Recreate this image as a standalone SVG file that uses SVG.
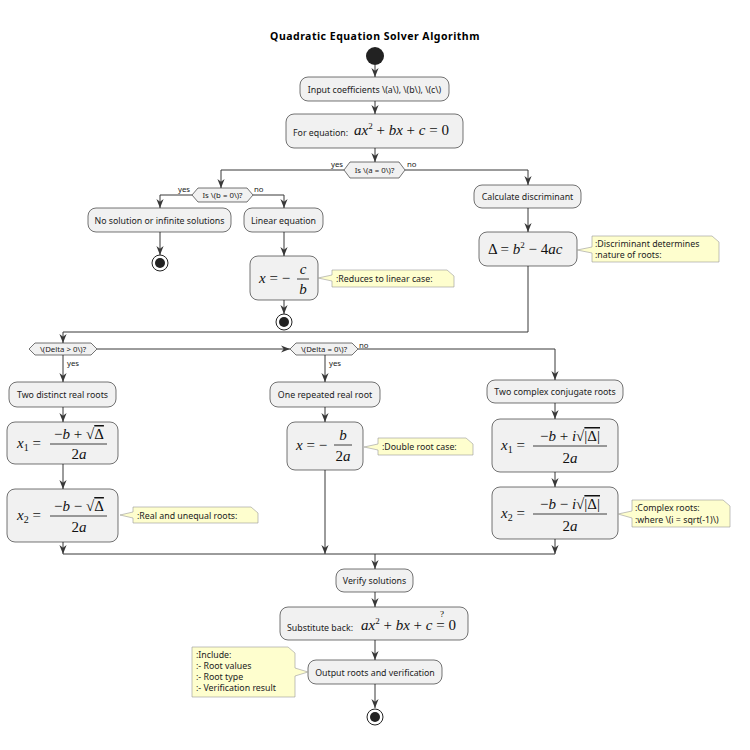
<svg xmlns="http://www.w3.org/2000/svg" width="750" height="750" viewBox="0 0 750 750">
<style>
.box{fill:#f1f1f1;stroke:#181818;stroke-width:0.6}
.t{font-family:"Noto Sans","DejaVu Sans",sans-serif;font-size:8.8px;fill:#222}
.s{font-family:"Noto Sans","DejaVu Sans",sans-serif;font-size:7.8px;fill:#222}
.m{font-family:"Liberation Serif",serif;font-size:15px;font-style:italic;fill:#111}
.mn{font-family:"Liberation Serif",serif;font-style:normal;fill:#111}
.sup{font-family:"Liberation Serif",serif;font-style:normal;font-size:9px}
.sub{font-family:"Liberation Serif",serif;font-style:normal;font-size:10px}
.note{fill:#fefece;stroke:#999;stroke-width:0.6}
.ln{stroke:#383838;stroke-width:1;fill:none}
.fr{stroke:#111;stroke-width:0.8}
</style>
<defs>
<marker id="a" viewBox="0 0 10 10" refX="10" refY="5" markerWidth="9" markerHeight="9" orient="auto"><path d="M0,1 L10,5 L0,9 L3,5 Z" fill="#383838"/></marker>
</defs>
<rect width="750" height="750" fill="#fff"/>
<text x="375" y="40" text-anchor="middle" font-family="Noto Sans,DejaVu Sans,sans-serif" font-size="10.5" font-weight="bold" letter-spacing="0.5">Quadratic Equation Solver Algorithm</text>

<g id="connectors">
<path class="ln" d="M375,65 V77" marker-end="url(#a)"/>
<path class="ln" d="M375,101 V114" marker-end="url(#a)"/>
<path class="ln" d="M375,148 V162" marker-end="url(#a)"/>
<path class="ln" d="M344,170 H221 V188" marker-end="url(#a)"/>
<path class="ln" d="M405,170 H528 V185" marker-end="url(#a)"/>
<path class="ln" d="M192,195 H160 V208" marker-end="url(#a)"/>
<path class="ln" d="M253,195 H284 V208" marker-end="url(#a)"/>
<path class="ln" d="M160,232 V255" marker-end="url(#a)"/>
<path class="ln" d="M284,232 V256" marker-end="url(#a)"/>
<path class="ln" d="M284,300 V314" marker-end="url(#a)"/>
<path class="ln" d="M528,208 V232" marker-end="url(#a)"/>
<path class="ln" d="M528,266 V332 H63 V343" marker-end="url(#a)"/>
<path class="ln" d="M97,349 H290" marker-end="url(#a)"/>
<path class="ln" d="M63,355 V382" marker-end="url(#a)"/>
<path class="ln" d="M63,407 V422" marker-end="url(#a)"/>
<path class="ln" d="M63,464 V489" marker-end="url(#a)"/>
<path class="ln" d="M325,355 V382" marker-end="url(#a)"/>
<path class="ln" d="M325,407 V422" marker-end="url(#a)"/>
<path class="ln" d="M358,349 H555 V380" marker-end="url(#a)"/>
<path class="ln" d="M555,403 V419" marker-end="url(#a)"/>
<path class="ln" d="M555,472 V487" marker-end="url(#a)"/>
<path class="ln" d="M63,542 V554" marker-end="url(#a)"/>
<path class="ln" d="M325,470 V554" marker-end="url(#a)"/>
<path class="ln" d="M555,539 V554" marker-end="url(#a)"/>
<path class="ln" d="M63,554 H555"/>
<path class="ln" d="M375,554 V569" marker-end="url(#a)"/>
<path class="ln" d="M375,592 V607" marker-end="url(#a)"/>
<path class="ln" d="M375,640 V660" marker-end="url(#a)"/>
<path class="ln" d="M375,684 V708" marker-end="url(#a)"/>
<text class="s" x="331" y="167">yes</text><text class="s" x="407" y="167">no</text>
<text class="s" x="178" y="192">yes</text><text class="s" x="254" y="192">no</text>
<text class="s" x="67" y="366">yes</text><text class="s" x="329" y="366">yes</text><text class="s" x="359" y="348">no</text>
</g>

<g id="start"><circle cx="375" cy="56" r="9" fill="#222"/></g>
<g id="input"><rect class="box" x="300" y="77" width="149" height="24" rx="8"/><text class="t" x="374.5" y="92.5" text-anchor="middle">Input coefficients \(a\), \(b\), \(c\)</text></g>
<g id="equation"><rect class="box" x="286" y="114" width="177" height="34" rx="8"/><text class="t" x="293" y="136">For equation:</text><text class="m" x="354" y="135">ax<tspan class="sup" dy="-6">2</tspan><tspan class="mn" dy="6"> + </tspan>bx<tspan class="mn"> + </tspan>c<tspan class="mn"> = 0</tspan></text></g>
<g id="dA"><polygon class="box" points="344,170 350,162 399,162 405,170 399,178 350,178"/><text class="s" x="374.5" y="173" text-anchor="middle">Is \(a = 0\)?</text></g>
<g id="dB"><polygon class="box" points="192,195 198,188 247,188 253,195 247,202 198,202"/><text class="s" x="222.5" y="198" text-anchor="middle">Is \(b = 0\)?</text></g>
<g id="nosol"><rect class="box" x="88" y="208" width="143" height="24" rx="8"/><text class="t" x="159.5" y="223.5" text-anchor="middle">No solution or infinite solutions</text></g>
<g id="end1"><circle cx="160" cy="263" r="8" fill="#fff" stroke="#222"/><circle cx="160" cy="263" r="5" fill="#222"/></g>
<g id="linear"><rect class="box" x="244" y="208" width="79" height="24" rx="8"/><text class="t" x="283.5" y="223.5" text-anchor="middle">Linear equation</text></g>
<g id="xlin"><rect class="box" x="250" y="256" width="68" height="44" rx="8"/><text class="m" x="259" y="283">x<tspan class="mn"> = −</tspan></text><text class="m" x="303" y="274" text-anchor="middle">c</text><line class="fr" x1="297" y1="279" x2="309" y2="279"/><text class="m" x="303" y="294" text-anchor="middle">b</text></g>
<g id="noteLin"><path class="note" d="M332,270 H447 L454,276 V287 H332 V281 L318,278 L332,275 Z"/><text class="t" x="336" y="282">:Reduces to linear case:</text></g>
<g id="end2"><circle cx="284" cy="322" r="8" fill="#fff" stroke="#222"/><circle cx="284" cy="322" r="5" fill="#222"/></g>
<g id="calc"><rect class="box" x="474" y="185" width="107" height="23" rx="8"/><text class="t" x="527.5" y="200" text-anchor="middle">Calculate discriminant</text></g>
<g id="delta"><rect class="box" x="479" y="232" width="98" height="34" rx="8"/><text class="m" x="488" y="254"><tspan class="mn">Δ = </tspan>b<tspan class="sup" dy="-6">2</tspan><tspan class="mn" dy="6"> − 4</tspan>ac</text></g>
<g id="noteDelta"><path class="note" d="M592,236 H712 L719,242 V262 H592 V253 L577,250 L592,247 Z"/><text class="t" x="595" y="247">:Discriminant determines</text><text class="t" x="595" y="258">:nature of roots:</text></g>
<g id="dPos"><polygon class="box" points="29,349 35,343 91,343 97,349 91,355 35,355"/><text class="s" x="63" y="352" text-anchor="middle">\(Delta &gt; 0\)?</text></g>
<g id="dZero"><polygon class="box" points="290,349 296,343 352,343 358,349 352,355 296,355"/><text class="s" x="324" y="352" text-anchor="middle">\(Delta = 0\)?</text></g>
<g id="twoReal"><rect class="box" x="9" y="382" width="107" height="25" rx="8"/><text class="t" x="62.5" y="398" text-anchor="middle">Two distinct real roots</text></g>
<g id="x1real"><rect class="box" x="7" y="422" width="111" height="42" rx="8"/><text class="m" x="17" y="448">x<tspan class="sub" dy="3">1</tspan><tspan class="mn" dy="-3"> =</tspan></text><text class="m" x="79" y="439" text-anchor="middle"><tspan class="mn">−</tspan>b<tspan class="mn"> + √</tspan><tspan class="mn" text-decoration="overline">Δ</tspan></text><line class="fr" x1="50" y1="444" x2="107" y2="444"/><text class="m" x="79" y="459" text-anchor="middle"><tspan class="mn">2</tspan>a</text></g>
<g id="x2real"><rect class="box" x="7" y="489" width="111" height="53" rx="8"/><text class="m" x="17" y="520">x<tspan class="sub" dy="3">2</tspan><tspan class="mn" dy="-3"> =</tspan></text><text class="m" x="79" y="511" text-anchor="middle"><tspan class="mn">−</tspan>b<tspan class="mn"> − √</tspan><tspan class="mn" text-decoration="overline">Δ</tspan></text><line class="fr" x1="50" y1="516" x2="107" y2="516"/><text class="m" x="79" y="532" text-anchor="middle"><tspan class="mn">2</tspan>a</text></g>
<g id="noteReal"><path class="note" d="M133,507 H251 L258,513 V523 H133 V518 L120,515 L133,512 Z"/><text class="t" x="137" y="519">:Real and unequal roots:</text></g>
<g id="oneRoot"><rect class="box" x="270" y="382" width="110" height="25" rx="8"/><text class="t" x="325" y="398" text-anchor="middle">One repeated real root</text></g>
<g id="xdouble"><rect class="box" x="287" y="422" width="76" height="48" rx="8"/><text class="m" x="296" y="450">x<tspan class="mn"> = −</tspan></text><text class="m" x="343" y="440" text-anchor="middle">b</text><line class="fr" x1="334" y1="445" x2="352" y2="445"/><text class="m" x="343" y="461" text-anchor="middle"><tspan class="mn">2</tspan>a</text></g>
<g id="noteDouble"><path class="note" d="M378,438 H466 L473,444 V455 H378 V450 L364,447 L378,444 Z"/><text class="t" x="382" y="450">:Double root case:</text></g>
<g id="complex"><rect class="box" x="487" y="380" width="136" height="23" rx="8"/><text class="t" x="555" y="395" text-anchor="middle">Two complex conjugate roots</text></g>
<g id="x1c"><rect class="box" x="492" y="419" width="126" height="53" rx="8"/><text class="m" x="501" y="450">x<tspan class="sub" dy="3">1</tspan><tspan class="mn" dy="-3"> =</tspan></text><text class="m" x="570" y="441" text-anchor="middle"><tspan class="mn">−</tspan>b<tspan class="mn"> + </tspan>i<tspan class="mn">√</tspan><tspan class="mn" text-decoration="overline">|Δ|</tspan></text><line class="fr" x1="533" y1="446" x2="607" y2="446"/><text class="m" x="570" y="463" text-anchor="middle"><tspan class="mn">2</tspan>a</text></g>
<g id="x2c"><rect class="box" x="492" y="487" width="126" height="52" rx="8"/><text class="m" x="501" y="518">x<tspan class="sub" dy="3">2</tspan><tspan class="mn" dy="-3"> =</tspan></text><text class="m" x="570" y="509" text-anchor="middle"><tspan class="mn">−</tspan>b<tspan class="mn"> − </tspan>i<tspan class="mn">√</tspan><tspan class="mn" text-decoration="overline">|Δ|</tspan></text><line class="fr" x1="533" y1="514" x2="607" y2="514"/><text class="m" x="570" y="531" text-anchor="middle"><tspan class="mn">2</tspan>a</text></g>
<g id="noteComplex"><path class="note" d="M632,500 H723 L730,506 V527 H632 V518 L618,514 L632,511 Z"/><text class="t" x="635" y="511">:Complex roots:</text><text class="t" x="635" y="523">:where \(i = sqrt(-1)\)</text></g>
<g id="verify"><rect class="box" x="336" y="569" width="77" height="23" rx="8"/><text class="t" x="374.5" y="584" text-anchor="middle">Verify solutions</text></g>
<g id="subst"><rect class="box" x="280" y="607" width="188" height="33" rx="8"/><text class="t" x="287" y="631">Substitute back:</text><text class="m" x="361" y="630">ax<tspan class="sup" dy="-6">2</tspan><tspan class="mn" dy="6"> + </tspan>bx<tspan class="mn"> + </tspan>c<tspan class="mn"> = 0</tspan></text><text class="sup" x="442" y="617" font-size="7" text-anchor="middle">?</text></g>
<g id="output"><rect class="box" x="308" y="660" width="134" height="24" rx="8"/><text class="t" x="375" y="675.5" text-anchor="middle">Output roots and verification</text></g>
<g id="noteOut"><path class="note" d="M192,647 H288 L295,653 V668 L308,672 L295,676 V697 H192 Z"/><text class="t" x="196" y="658">:Include:</text><text class="t" x="196" y="669">:- Root values</text><text class="t" x="196" y="680">:- Root type</text><text class="t" x="196" y="691">:- Verification result</text></g>
<g id="end3"><circle cx="375" cy="717" r="8" fill="#fff" stroke="#222"/><circle cx="375" cy="717" r="5" fill="#222"/></g>
</svg>
